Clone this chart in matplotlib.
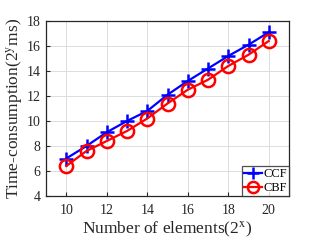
import matplotlib
matplotlib.use("Agg")
import matplotlib.pyplot as plt

x = [10, 11, 12, 13, 14, 15, 16, 17, 18, 19, 20]
ccf = [7.0, 8.0, 9.1, 10.0, 10.8, 12.1, 13.2, 14.2, 15.2, 16.1, 17.1]
cbf = [6.4, 7.6, 8.4, 9.2, 10.2, 11.4, 12.5, 13.3, 14.4, 15.3, 16.4]
xticks = [10, 12, 14, 16, 18, 20]
yticks = [4, 6, 8, 10, 12, 14, 16, 18]

plt.rcParams['font.family'] = ['Liberation Serif', 'DejaVu Serif']
plt.rcParams['mathtext.fontset'] = 'stix'

fig = plt.figure(figsize=(3.19, 2.40), dpi=100)
ax = fig.add_axes([46/319, 1 - 196/240, (289-46)/319, (196-21)/240])

ax.plot(x, ccf, color='#0000ff', lw=1.6, marker='+', ms=10, mew=1.8, label='CCF')
ax.plot(x, cbf, color='#ff0000', lw=1.6, marker='o', ms=9.5, mew=1.8, mfc='none', label='CBF')

ax.set_xlim(9, 21)
ax.set_ylim(4, 18)
ax.set_xticks(xticks)
ax.set_yticks(yticks)
ax.grid(True, color='#dcdcdc', lw=0.7)
ax.set_axisbelow(True)
ax.tick_params(direction='in', labelsize=10, length=3, colors='#262626', labelcolor='#262626')
ax.tick_params(axis='x', pad=6)
ax.tick_params(axis='y', pad=4)
for s in ax.spines.values():
    s.set_linewidth(0.9)
    s.set_color('#262626')

ax.set_xlabel(r'Number of elements(2$^{\mathrm{x}}$)', fontsize=12.5, color='#262626', labelpad=2)
ax.set_ylabel(r'Time-consumption(2$^{\mathrm{y}}$ms)', fontsize=12.5, color='#262626', labelpad=1)

leg = ax.legend(loc='lower right', fontsize=9, frameon=True, fancybox=False,
                edgecolor='#262626', borderpad=0.15, handlelength=1.5, handletextpad=0.1,
                labelspacing=0.15, borderaxespad=0.0, markerscale=0.85)
leg.get_frame().set_linewidth(0.9)

fig.savefig('out.png', dpi=100)
